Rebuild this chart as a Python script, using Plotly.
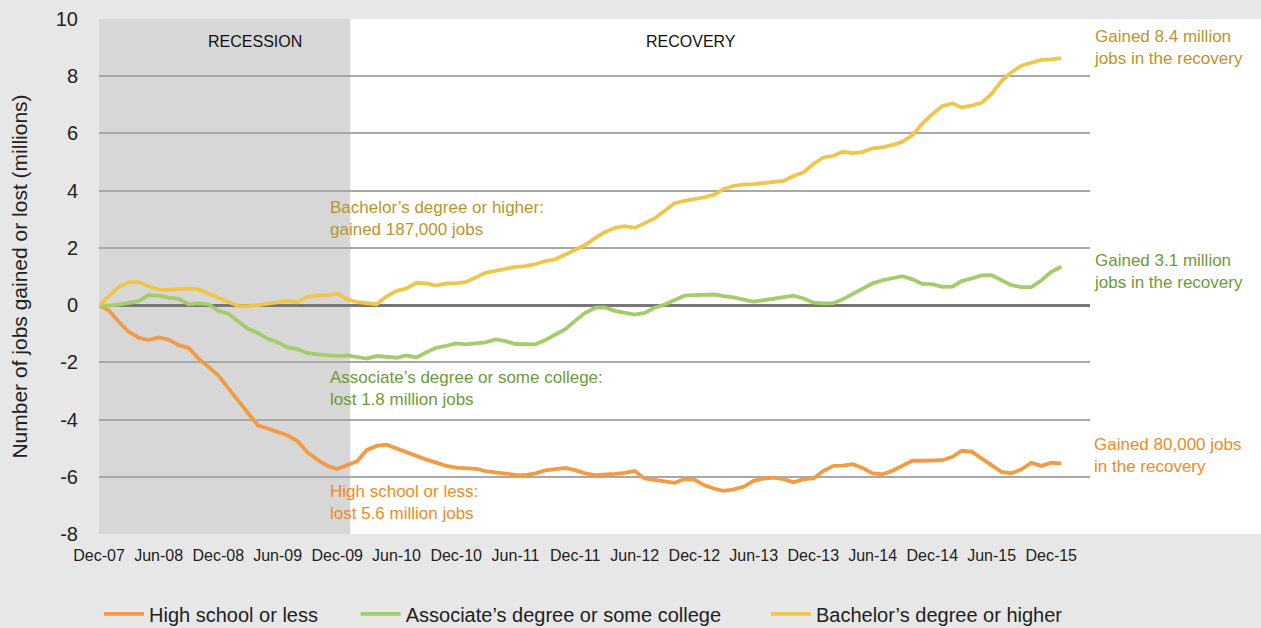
import pandas as pd
import plotly.graph_objects as go

# monthly, Dec-07 .. Jan-16, change in jobs since Dec-07 (millions)
months = pd.date_range('2007-12-01', periods=98, freq='MS')

high_school = [0.0, -0.2, -0.6, -0.93, -1.14, -1.22, -1.13, -1.2, -1.4, -1.5,
               -1.86, -2.15, -2.45, -2.9, -3.35, -3.8, -4.2, -4.31, -4.42, -4.55,
               -4.75, -5.15, -5.4, -5.62, -5.73, -5.6, -5.45, -5.07, -4.92, -4.88,
               -5.0, -5.15, -5.27, -5.4, -5.52, -5.62, -5.68, -5.69, -5.72, -5.8,
               -5.85, -5.89, -5.93, -5.94, -5.88, -5.78, -5.72, -5.69, -5.77, -5.88,
               -5.94, -5.93, -5.9, -5.86, -5.8, -6.06, -6.12, -6.18, -6.21, -6.08,
               -6.1, -6.3, -6.42, -6.49, -6.44, -6.35, -6.14, -6.06, -6.03, -6.08,
               -6.19, -6.08, -6.06, -5.79, -5.62, -5.61, -5.56, -5.69, -5.88, -5.91,
               -5.79, -5.61, -5.44, -5.44, -5.44, -5.42, -5.3, -5.09, -5.12, -5.36,
               -5.63, -5.83, -5.88, -5.74, -5.51, -5.62, -5.51, -5.53]

associate = [0.0, -0.02, 0.02, 0.08, 0.14, 0.35, 0.33, 0.26, 0.22, 0.03,
             0.06, 0.03, -0.2, -0.3, -0.57, -0.82, -0.97, -1.17, -1.3, -1.47,
             -1.54, -1.68, -1.72, -1.75, -1.78, -1.76, -1.83, -1.87, -1.78, -1.8,
             -1.84, -1.76, -1.83, -1.65, -1.49, -1.42, -1.34, -1.37, -1.33, -1.3,
             -1.2, -1.26, -1.36, -1.37, -1.37, -1.22, -1.02, -0.84, -0.55, -0.27,
             -0.09, -0.08, -0.2, -0.26, -0.33, -0.27, -0.09, 0.02, 0.17, 0.33,
             0.35, 0.35, 0.37, 0.31, 0.27, 0.19, 0.12, 0.17, 0.22, 0.26,
             0.33, 0.23, 0.09, 0.06, 0.07, 0.2, 0.38, 0.58, 0.76, 0.87,
             0.93, 1.01, 0.9, 0.74, 0.73, 0.64, 0.65, 0.84, 0.93, 1.04,
             1.05, 0.87, 0.7, 0.63, 0.63, 0.87, 1.16, 1.34]

bachelor = [0.0, 0.32, 0.64, 0.8, 0.8, 0.66, 0.54, 0.53, 0.55, 0.58,
            0.55, 0.41, 0.29, 0.12, -0.03, -0.04, 0.0, 0.04, 0.08, 0.15,
            0.1, 0.29, 0.34, 0.34, 0.4, 0.2, 0.1, 0.06, 0.03, 0.3,
            0.5, 0.58, 0.78, 0.76, 0.68, 0.76, 0.76, 0.81, 0.99, 1.13,
            1.2, 1.28, 1.34, 1.36, 1.43, 1.54, 1.6, 1.77, 1.92, 2.1,
            2.35, 2.55, 2.7, 2.76, 2.7, 2.88, 3.03, 3.3, 3.56, 3.64,
            3.7, 3.77, 3.87, 4.06, 4.17, 4.22, 4.23, 4.26, 4.29, 4.34,
            4.51, 4.64, 4.93, 5.16, 5.22, 5.36, 5.31, 5.35, 5.48, 5.51,
            5.6, 5.71, 5.94, 6.35, 6.67, 6.96, 7.05, 6.91, 6.97, 7.07,
            7.38, 7.83, 8.14, 8.37, 8.47, 8.57, 8.59, 8.63]

series_names = ['High school or less', 'Associate\u2019s degree or some college',
                'Bachelor\u2019s degree or higher']
line_colors = ['#f29b45', '#a3cc6a', '#efc64c']
text_colors = ['#f08a24', '#6f9a38', '#b8952c']

y_ticks = [-8, -6, -4, -2, 0, 2, 4, 6, 8, 10]
y_tick_labels = ['-8', '-6', '-4', '-2', '0', '2', '4', '6', '8', '10']

FONT = 'Liberation Sans, Arial, sans-serif'

fig = go.Figure()
legend_ids = ['legend', 'legend2', 'legend3']
for name, values, color, lg in zip(series_names, [high_school, associate, bachelor], line_colors, legend_ids):
    fig.add_trace(go.Scatter(x=months, y=values, mode='lines', name=name, legend=lg,
                             line=dict(color=color, width=3.8)))

# white panel behind the plot and the right-hand notes
fig.add_shape(type='rect', xref='paper', yref='paper', x0=0, x1=1.3, y0=0, y1=1,
              fillcolor='white', line_width=0, layer='below')
# recession shading
fig.add_shape(type='rect', xref='x', yref='paper', x0='2007-12-01', x1='2010-01-10',
              y0=0, y1=1, fillcolor='#d7d7d7', line_width=0, layer='below')

notes = [
    (0.231, 3.04, 'Bachelor\u2019s degree or higher:<br>gained 187,000 jobs', text_colors[2]),
    (0.231, -2.92, 'Associate\u2019s degree or some college:<br>lost 1.8 million jobs', text_colors[1]),
    (0.231, -6.89, 'High school or less:<br>lost 5.6 million jobs', text_colors[0]),
    (1.002, 9.0, 'Gained 8.4 million<br>jobs in the recovery', text_colors[2]),
    (1.002, 1.17, 'Gained 3.1 million<br>jobs in the recovery', text_colors[1]),
    (1.002, -5.26, 'Gained 80,000 jobs<br>in the recovery', text_colors[0]),
]
for x, y, text, color in notes:
    fig.add_annotation(x=x, y=y, xref='paper', yref='y', text=text, showarrow=False,
                       xanchor='left', yanchor='middle', align='left',
                       font=dict(family=FONT, size=17, color=color))

for x, text in [(0.157, 'RECESSION'), (0.597, 'RECOVERY')]:
    fig.add_annotation(x=x, y=9.2, xref='paper', yref='y', text=text, showarrow=False,
                       xanchor='center', yanchor='middle',
                       font=dict(family=FONT, size=16, color='#111111'))

legend_style = dict(orientation='h', xanchor='left', y=-0.155, yanchor='middle',
                    font=dict(size=20, color='#222222'), bgcolor='rgba(0,0,0,0)',
                    itemwidth=40)
fig.update_layout(
    width=1261, height=628,
    margin=dict(l=99, r=171, t=19, b=94, autoexpand=False),
    paper_bgcolor='#e7e7e7', plot_bgcolor='white',
    font=dict(family=FONT, color='#222222'),
    showlegend=True,
    legend=dict(x=0.0, **legend_style),
    legend2=dict(x=0.259, **legend_style),
    legend3=dict(x=0.673, **legend_style),
)
fig.update_xaxes(type='date', range=['2007-12-01', '2016-03-29'],
                 tick0='2007-12-01', dtick='M6', tickformat='%b-%y',
                 showgrid=False, zeroline=False, showline=False, ticks='',
                 tickfont=dict(size=16, color='#222222'), ticklabelstandoff=10)
fig.update_yaxes(range=[-8, 10], tickvals=y_ticks, ticktext=y_tick_labels,
                 showgrid=True, gridcolor='#a8a8a8', gridwidth=1.5,
                 zeroline=True, zerolinecolor='#777777', zerolinewidth=3,
                 showline=False, ticks='', ticklabelstandoff=20,
                 tickfont=dict(size=20, color='#222222'),
                 title=dict(text='Number of jobs gained or lost (millions)',
                            font=dict(size=21, color='#222222'), standoff=22))

fig.write_html('out.html', config={'displayModeBar': False},
               post_script="document.body.style.margin='0';document.body.style.overflow='hidden';")
